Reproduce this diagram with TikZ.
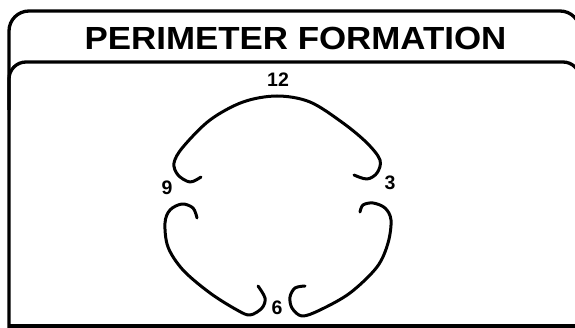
\documentclass[tikz,border=0pt]{standalone}
\usepackage{fontspec}
\setmainfont{Liberation Sans}
\begin{document}
\begin{tikzpicture}[x=1pt,y=-1pt,
  frame/.style={line width=3.3pt, line join=round},
  curl/.style={line width=3pt, line cap=round, line join=round},
  title/.style={font=\bfseries\fontsize{32}{32}\selectfont, inner sep=0pt, anchor=base},
  lbl/.style={font=\bfseries\fontsize{19.5}{19.5}\selectfont, inner sep=0pt, anchor=base}]
\useasboundingbox (0,0) rectangle (575,328);
\clip (0,0) rectangle (575,328);
% frame
\draw[frame, rounded corners=20pt] (9,340) -- (9,11) -- (580,11) -- (580,120);
\draw[frame, rounded corners=17pt] (9,110) -- (9,62) -- (580,62) -- (580,120);
\draw[frame] (9,326) -- (575,326);
% title
\node[title] (t) at (295.5,50) {\scalebox{1.09}[1]{PERIMETER FORMATION}};
% clock numbers
\node[lbl] (n12) at (278,87) {12};
\node[lbl] (n9) at (167,195) {9};
\node[lbl] (n3) at (390,190) {3};
\node[lbl] (n6) at (277,315) {6};
% arcs
\draw[curl] plot[smooth, tension=0.55] coordinates {(201,177) (190,182) (178,175) (174,163) (183,147) (210,120) (243,102) (277,96) (310,102) (343,123) (367,143) (380,160) (377,173) (367,179) (354,175)};
\draw[curl] plot[smooth, tension=0.55] coordinates {(197,218) (193,208) (182,204) (170,210) (165,223) (168,247) (183,270) (210,293) (237,310) (250,315) (262,308) (265,298) (258,286)};
\draw[curl] plot[smooth, tension=0.55] coordinates {(360,212) (363,205) (373,203) (385,208) (391,220) (388,243) (377,267) (350,293) (320,310) (302,316) (292,308) (290,297) (295,288) (305,286)};
\end{tikzpicture}
\end{document}
